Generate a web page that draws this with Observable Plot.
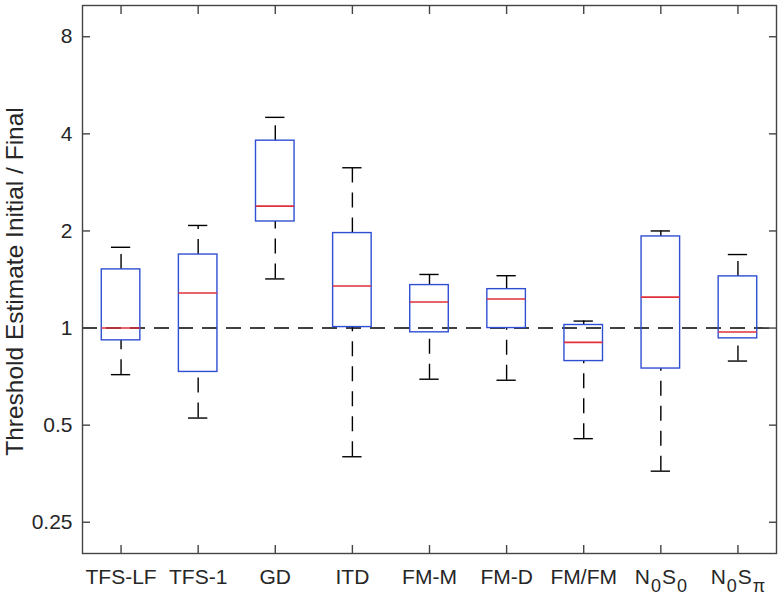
<!DOCTYPE html>
<html>
<head>
<meta charset="utf-8">
<script src="https://cdn.jsdelivr.net/npm/d3@7"></script>
<script src="https://cdn.jsdelivr.net/npm/@observablehq/plot@0.6"></script>
<style>
  html, body { margin: 0; padding: 0; background: #fff; }
  #chart { width: 780px; height: 598px; }
</style>
</head>
<body>
<div id="chart"></div>
<script>
// Category labels (subscripts applied after rendering)
const categories = ["TFS-LF", "TFS-1", "GD", "ITD", "FM-M", "FM-D", "FM/FM", "N0S0", "N0Sπ"];
// Box-plot summary values
const lowerWhisker = [0.717, 0.526, 1.42, 0.399, 0.694, 0.689, 0.454, 0.36, 0.79];
const lowerQuartile = [0.916, 0.731, 2.14, 1.007, 0.97, 1.0, 0.79, 0.749, 0.929];
const medians = [1.0, 1.284, 2.387, 1.35, 1.204, 1.23, 0.903, 1.247, 0.972];
const upperQuartile = [1.52, 1.69, 3.81, 1.97, 1.359, 1.32, 1.022, 1.923, 1.446];
const upperWhisker = [1.78, 2.08, 4.50, 3.14, 1.466, 1.453, 1.051, 2.0, 1.69];
// Axis ticks
const yTicks = [0.25, 0.5, 1, 2, 4, 8];
const yTickLabels = ["0.25", "0.5", "1", "2", "4", "8"];
const referenceLevel = [1];
const yLabel = "Threshold Estimate Initial / Final";

const rows = categories.map((name, k) => ({
  pos: k + 1, name,
  lo: lowerWhisker[k], q1: lowerQuartile[k], med: medians[k],
  q3: upperQuartile[k], hi: upperWhisker[k]
}));
const xTicks = rows.map(d => d.pos);

const ink = "#262626";
const boxBlue = "#2f4fd2";
const medRed = "#e0303c";
const halfBox = 0.25, halfCap = 0.125;

const plot = Plot.plot({
  width: 780,
  height: 598,
  marginLeft: 82,
  marginRight: 4,
  marginTop: 5,
  marginBottom: 45,
  style: { fontFamily: "'Liberation Sans', Arial, Helvetica, sans-serif", fontSize: "21px", color: ink, background: "#fff" },
  x: { domain: [0.5, 9.5] },
  y: { type: "log", base: 2, domain: [0.2, 10] },
  marks: [
    Plot.ruleY(referenceLevel, { stroke: "#000", strokeWidth: 1.4, strokeDasharray: "15,9" }),
    Plot.ruleX(rows, { x: "pos", y1: "q3", y2: "hi", stroke: "#000", strokeWidth: 1.4, strokeDasharray: "15,10" }),
    Plot.ruleX(rows, { x: "pos", y1: "lo", y2: "q1", stroke: "#000", strokeWidth: 1.4, strokeDasharray: "15,10" }),
    Plot.ruleY(rows, { y: "hi", x1: d => d.pos - halfCap, x2: d => d.pos + halfCap, stroke: "#000", strokeWidth: 1.4 }),
    Plot.ruleY(rows, { y: "lo", x1: d => d.pos - halfCap, x2: d => d.pos + halfCap, stroke: "#000", strokeWidth: 1.4 }),
    Plot.rect(rows, { x1: d => d.pos - halfBox, x2: d => d.pos + halfBox, y1: "q1", y2: "q3", fill: "none", stroke: boxBlue, strokeWidth: 1.4 }),
    Plot.ruleY(rows, { y: "med", x1: d => d.pos - halfBox, x2: d => d.pos + halfBox, stroke: medRed, strokeWidth: 1.6 }),
    Plot.frame({ stroke: "#444", strokeWidth: 1.4 }),
    // inward ticks on all four sides
    Plot.axisX({ anchor: "bottom", ticks: xTicks, tickSize: -8, text: null, label: null, stroke: "#444", strokeWidth: 1.4 }),
    Plot.axisX({ anchor: "top", ticks: xTicks, tickSize: -8, text: null, label: null, stroke: "#444", strokeWidth: 1.4 }),
    Plot.axisY({ anchor: "left", ticks: yTicks, tickSize: -8, text: null, label: null, stroke: "#444", strokeWidth: 1.4 }),
    Plot.axisY({ anchor: "right", ticks: yTicks, tickSize: -8, text: null, label: null, stroke: "#444", strokeWidth: 1.4 }),
    // tick labels
    Plot.axisX({ anchor: "bottom", ticks: xTicks, tickSize: 0, tickPadding: 16, tickFormat: v => categories[v - 1], label: null, fontSize: 21, fill: ink }),
    Plot.axisY({ anchor: "left", ticks: yTicks, tickSize: 0, tickPadding: 10, tickFormat: v => yTickLabels[yTicks.indexOf(v)], label: null, fontSize: 21, fill: ink }),
    Plot.text([yLabel], { frameAnchor: "left", textAnchor: "middle", lineAnchor: "middle", dx: -67, dy: 2, rotate: -90, fontSize: 24.5, fill: ink })
  ]
});

document.getElementById("chart").appendChild(plot);

// Render the N0S0 / N0Sπ labels with real subscripts
const svgNS = "http://www.w3.org/2000/svg";
plot.querySelectorAll("text").forEach(t => {
  const s = t.textContent;
  if (s === "N0S0" || s === "N0Sπ") {
    while (t.firstChild) t.removeChild(t.firstChild);
    const parts = [["N", 0], ["0", 1], ["S", -1], [s.slice(3), 1]];
    parts.forEach(([txt, sub]) => {
      const ts = document.createElementNS(svgNS, "tspan");
      ts.textContent = txt;
      if (sub === 1) { ts.setAttribute("font-size", "18"); ts.setAttribute("dy", "8"); ts.setAttribute("dx", "1"); }
      if (sub === -1) { ts.setAttribute("dy", "-8"); ts.setAttribute("dx", "1"); }
      t.appendChild(ts);
    });
  }
});
</script>
</body>
</html>
